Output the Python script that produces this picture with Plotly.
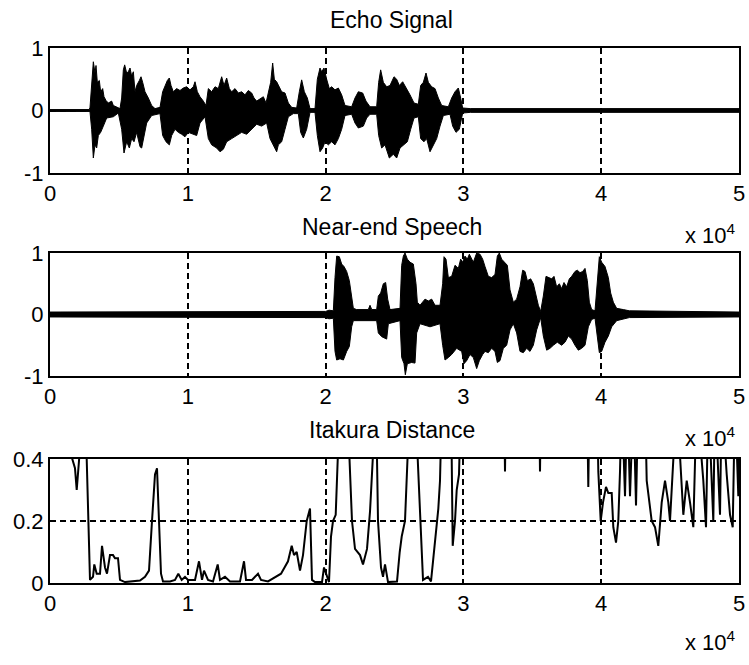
import plotly.graph_objects as go

# ---------------- data ----------------
# x values are sample indices (axis is labelled in units of 10^4)
echo_upper = [(0, 0.015), (2850, 0.015), (2903, 0.05), (3024, 0.45), (3145, 0.78), (3266, 0.6),
              (3338, 0.72), (3435, 0.45), (3580, 0.48), (3677, 0.3), (3822, 0.35), (3919, 0.22),
              (4064, 0.16), (4233, 0.12), (4475, 0.15), (4596, 0.08), (4838, 0.05), (5080, 0.03),
              (5201, 0.2), (5322, 0.65), (5418, 0.73), (5564, 0.6), (5685, 0.62), (5806, 0.68),
              (5926, 0.55), (6047, 0.62), (6168, 0.3), (6289, 0.4), (6483, 0.48), (6604, 0.54),
              (6725, 0.45), (6894, 0.3), (7136, 0.2), (7378, 0.08), (7620, 0.03), (7983, 0.05),
              (8176, 0.3), (8345, 0.38), (8515, 0.48), (8660, 0.52), (8781, 0.4), (8950, 0.3),
              (9192, 0.35), (9434, 0.32), (9676, 0.36), (9918, 0.38), (10160, 0.33), (10402, 0.38),
              (10523, 0.46), (10692, 0.3), (10885, 0.22), (11127, 0.15), (11321, 0.08), (11490, 0.35),
              (11732, 0.3), (11974, 0.38), (12216, 0.35), (12458, 0.54), (12627, 0.4), (12821, 0.52),
              (13014, 0.35), (13184, 0.3), (13425, 0.35), (13667, 0.28), (13909, 0.3), (14151, 0.25),
              (14393, 0.32), (14635, 0.28), (14804, 0.2), (14998, 0.15), (15240, 0.18), (15482, 0.22),
              (15675, 0.12), (15845, 0.3), (16014, 0.45), (16159, 0.76), (16280, 0.5), (16449, 0.46),
              (16570, 0.4), (16812, 0.3), (17054, 0.28), (17296, 0.12), (17537, 0.05), (17900, 0.04),
              (18094, 0.3), (18263, 0.49), (18457, 0.3), (18674, 0.2), (18868, 0.03), (19231, 0.03),
              (19400, 0.5), (19594, 0.68), (19715, 0.62), (19884, 0.68), (20077, 0.5), (20271, 0.35),
              (20440, 0.38), (20682, 0.33), (20924, 0.36), (21166, 0.25), (21408, 0.08), (21892, 0.06),
              (22134, 0.2), (22376, 0.3), (22690, 0.28), (22932, 0.15), (23222, 0.06), (23706, 0.06),
              (23851, 0.45), (23996, 0.65), (24190, 0.45), (24432, 0.38), (24674, 0.4), (24964, 0.54),
              (25158, 0.5), (25351, 0.4), (25593, 0.46), (25883, 0.35), (26125, 0.25), (26415, 0.12),
              (26730, 0.1), (26899, 0.4), (27093, 0.45), (27286, 0.6), (27456, 0.45), (27698, 0.38),
              (27940, 0.35), (28182, 0.2), (28424, 0.08), (28908, 0.06), (29149, 0.2), (29391, 0.3),
              (29633, 0.36), (29802, 0.2), (29947, 0.04), (30500, 0.03), (50000, 0.03)]
echo_lower = [(0, -0.015), (2900, -0.015), (3024, -0.3), (3145, -0.76), (3266, -0.55), (3387, -0.6),
              (3508, -0.4), (3677, -0.35), (3870, -0.25), (4112, -0.12), (4596, -0.1), (4959, -0.04),
              (5201, -0.3), (5370, -0.68), (5564, -0.5), (5757, -0.6), (5926, -0.45), (6096, -0.5),
              (6289, -0.35), (6531, -0.58), (6652, -0.6), (6822, -0.4), (7015, -0.2), (7378, -0.08),
              (7983, -0.05), (8176, -0.4), (8418, -0.5), (8660, -0.55), (8829, -0.4), (9071, -0.3),
              (9313, -0.35), (9555, -0.38), (9797, -0.42), (10039, -0.35), (10402, -0.38), (10644, -0.4),
              (10885, -0.2), (11248, -0.1), (11490, -0.45), (11732, -0.55), (12095, -0.6), (12337, -0.66),
              (12579, -0.62), (12821, -0.5), (13184, -0.45), (13546, -0.4), (13909, -0.35), (14272, -0.38),
              (14635, -0.3), (14998, -0.22), (15361, -0.25), (15724, -0.2), (15965, -0.45), (16207, -0.55),
              (16449, -0.66), (16570, -0.55), (16812, -0.5), (17054, -0.3), (17296, -0.1), (17658, -0.05),
              (18021, -0.05), (18190, -0.35), (18384, -0.44), (18626, -0.3), (18868, -0.03), (19231, -0.03),
              (19400, -0.4), (19594, -0.66), (19787, -0.6), (19957, -0.5), (20198, -0.55), (20440, -0.5),
              (20682, -0.55), (20924, -0.45), (21166, -0.3), (21408, -0.08), (21892, -0.06), (22134, -0.2),
              (22376, -0.28), (22738, -0.25), (22980, -0.12), (23222, -0.06), (23706, -0.06), (23851, -0.4),
              (24069, -0.6), (24311, -0.55), (24625, -0.76), (24916, -0.7), (25158, -0.76), (25400, -0.6),
              (25642, -0.55), (25932, -0.5), (26174, -0.3), (26415, -0.12), (26730, -0.1), (26899, -0.45),
              (27141, -0.5), (27335, -0.45), (27577, -0.66), (27819, -0.55), (28061, -0.45), (28303, -0.25),
              (28545, -0.08), (29028, -0.06), (29222, -0.25), (29464, -0.35), (29705, -0.3), (29947, -0.04),
              (30500, -0.03), (50000, -0.03)]

near_upper = [(0, 0.04), (19594, 0.04), (20000, 0.05), (20250, 0.07), (20562, 0.06), (20683, 0.6),
              (20804, 0.95), (20997, 0.94), (21166, 0.82), (21336, 0.78), (21529, 0.7), (21723, 0.55),
              (21892, 0.3), (22013, 0.1), (22255, 0.08), (23100, 0.08), (23223, 0.15), (23350, 0.08),
              (23706, 0.08), (23827, 0.3), (23997, 0.35), (24190, 0.5), (24359, 0.52), (24505, 0.25),
              (24674, 0.08), (25400, 0.1), (25521, 0.8), (25642, 0.95), (25763, 1.0), (25932, 0.9),
              (26125, 0.85), (26367, 0.82), (26561, 0.5), (26657, 0.2), (26851, 0.15), (27214, 0.25),
              (27456, 0.22), (27698, 0.25), (27940, 0.15), (28302, 0.15), (28496, 0.5), (28593, 0.94),
              (28738, 0.9), (28907, 0.6), (29149, 0.62), (29391, 0.8), (29632, 0.75), (29802, 0.9),
              (29947, 0.85), (30117, 0.95), (30286, 0.9), (30431, 0.98), (30721, 0.85), (30963, 1.0),
              (31205, 0.98), (31398, 0.9), (31568, 0.78), (31809, 0.62), (32051, 0.6), (32293, 0.65),
              (32463, 0.95), (32608, 1.0), (32777, 0.9), (33019, 0.85), (33188, 0.8), (33382, 0.4),
              (33624, 0.2), (33866, 0.25), (34108, 0.45), (34301, 0.72), (34470, 0.7), (34640, 0.55),
              (34882, 0.58), (35075, 0.5), (35269, 0.3), (35438, 0.15), (35607, 0.05), (35801, 0.3),
              (35994, 0.62), (36164, 0.6), (36406, 0.58), (36575, 0.62), (36768, 0.45), (36962, 0.5),
              (37131, 0.42), (37300, 0.52), (37494, 0.45), (37688, 0.58), (37857, 0.62), (38099, 0.7),
              (38268, 0.72), (38462, 0.68), (38655, 0.7), (38825, 0.75), (38994, 0.55), (39139, 0.2),
              (39308, 0.08), (39550, 0.06), (39720, 0.5), (39865, 0.94), (40034, 0.85), (40276, 0.78),
              (40518, 0.6), (40687, 0.35), (40881, 0.2), (41122, 0.1), (41606, 0.08), (42042, 0.06),
              (50000, 0.04)]
near_lower = [(0, -0.04), (19594, -0.04), (20000, -0.05), (20250, -0.07), (20562, -0.06), (20683, -0.6),
              (20804, -0.74), (21046, -0.72), (21290, -0.74), (21529, -0.6), (21723, -0.52), (21892, -0.2),
              (22013, -0.1), (23706, -0.1), (23827, -0.3), (24069, -0.36), (24432, -0.4), (24553, -0.15),
              (25400, -0.1), (25521, -0.7), (25690, -0.8), (25787, -0.98), (25932, -0.8), (26246, -0.78),
              (26488, -0.79), (26609, -0.3), (26851, -0.15), (27577, -0.2), (28302, -0.15), (28496, -0.5),
              (28665, -0.74), (28907, -0.7), (29149, -0.65), (29512, -0.55), (29875, -0.6), (30044, -0.8),
              (30238, -0.75), (30479, -0.65), (30721, -0.7), (30963, -0.88), (31156, -0.75), (31398, -0.65),
              (31568, -0.6), (31809, -0.62), (32051, -0.55), (32293, -0.6), (32463, -0.78), (32656, -0.75),
              (32898, -0.55), (33140, -0.5), (33382, -0.25), (33624, -0.15), (33866, -0.3), (34108, -0.6),
              (34349, -0.62), (34591, -0.55), (34833, -0.6), (35075, -0.5), (35317, -0.25), (35607, -0.05),
              (35801, -0.35), (36043, -0.58), (36285, -0.55), (36527, -0.5), (36817, -0.45), (37131, -0.5),
              (37373, -0.45), (37615, -0.35), (37857, -0.4), (38099, -0.5), (38341, -0.58), (38583, -0.55),
              (38825, -0.5), (39066, -0.2), (39308, -0.08), (39550, -0.06), (39720, -0.4), (39865, -0.62),
              (40034, -0.6), (40276, -0.45), (40518, -0.35), (40760, -0.2), (41122, -0.1), (41606, -0.07),
              (42042, -0.05), (50000, -0.04)]

ita_x = [0, 1451, 1618, 1814, 1938, 2032, 2177, 2467, 2663, 2903,
         3121, 3215, 3389, 3629, 3774, 3991, 4136, 4354, 4572, 4717,
         4935, 5080, 5443, 5951, 6531, 6894, 7184, 7402, 7620, 7765,
         7910, 8055, 8200, 8708, 9071, 9311, 9557, 9797, 10015, 10523,
         10813, 11031, 11176, 11466, 11829, 12170, 12337, 12700, 13063, 13788,
         14079, 14224, 14659, 15095, 15312, 15820, 16764, 17272, 17540, 17707,
         17903, 18143, 18360, 18629, 18868, 19013, 19231, 19739, 19884, 20102,
         20247, 20392, 20537, 20733, 20900, 21045, 21553, 21771, 21916, 22134,
         22497, 22714, 23005, 23222, 23440, 23585, 23658, 23803, 24021, 24166,
         24311, 24529, 25037, 25182, 25378, 25523, 25762, 25980, 26125, 26488,
         26706, 26851, 27069, 27431, 27649, 27795, 28063, 28180, 28302, 28447,
         29101, 29224, 29391, 29514, 29681, 29826, 32947, 33019, 33092, 35487,
         35559, 35632, 38970, 39064, 39151, 39696, 39790, 39964, 40131, 40349,
         40516, 40763, 40879, 41075, 41242, 41365, 41488, 41728, 41895, 42091,
         42331, 42526, 42693, 43179, 43302, 43665, 43905, 44144, 44391, 44631,
         44870, 44993, 45233, 45480, 45959, 46206, 46445, 46684, 46931, 47410,
         47606, 47773, 48136, 48259, 48622, 48745, 49108, 49348, 49544, 49711,
         49950, 50000]
ita_y = [0.6, 0.6, 0.4, 0.37, 0.30, 0.38, 0.6, 0.6, 0.4, 0.01,
         0.02, 0.06, 0.03, 0.03, 0.12, 0.05, 0.03, 0.09, 0.09, 0.08,
         0.08, 0.01, 0.003, 0.005, 0.008, 0.02, 0.04, 0.2, 0.35, 0.37,
         0.2, 0.03, 0.005, 0.005, 0.01, 0.03, 0.01, 0.02, 0.01, 0.01,
         0.07, 0.01, 0.04, 0.01, 0.005, 0.06, 0.01, 0.02, 0.005, 0.005,
         0.07, 0.01, 0.01, 0.03, 0.01, 0.005, 0.03, 0.07, 0.12, 0.09,
         0.1, 0.04, 0.09, 0.2, 0.24, 0.01, 0.003, 0.003, 0.05, 0.02,
         0.003, 0.15, 0.2, 0.22, 0.35, 0.6, 0.6, 0.37, 0.2, 0.11,
         0.09, 0.06, 0.11, 0.23, 0.37, 0.6, 0.6, 0.2, 0.05, 0.02,
         0.06, 0.003, 0.003, 0.005, 0.1, 0.15, 0.2, 0.37, 0.6, 0.6,
         0.37, 0.2, 0.01, 0.02, 0.005, 0.07, 0.2, 0.24, 0.33, 0.6,
         0.6, 0.12, 0.2, 0.3, 0.35, 0.6, 0.6, 0.36, 0.6, 0.6,
         0.36, 0.6, 0.6, 0.31, 0.6, 0.6, 0.36, 0.2, 0.26, 0.31,
         0.29, 0.29, 0.18, 0.13, 0.2, 0.36, 0.6, 0.28, 0.6, 0.28,
         0.6, 0.25, 0.6, 0.6, 0.33, 0.2, 0.18, 0.12, 0.26, 0.33,
         0.26, 0.2, 0.33, 0.6, 0.22, 0.33, 0.26, 0.18, 0.6, 0.33,
         0.18, 0.6, 0.2, 0.6, 0.22, 0.6, 0.35, 0.22, 0.18, 0.6,
         0.28, 0.6]

x_tick_vals = [0, 10000, 20000, 30000, 40000, 50000]
x_tick_text = ["0", "1", "2", "3", "4", "5"]
sig_tick_vals = [-1, 0, 1]
sig_tick_text = ["-1", "0", "1"]
ita_tick_vals = [0, 0.2, 0.4]
ita_tick_text = ["0", "0.2", "0.4"]
titles = ["Echo Signal", "Near-end Speech", "Itakura Distance"]
multiplier = "x 10<sup>4</sup>"

# ---------------- figure ----------------
W, H = 749, 665
FONT = "Liberation Sans"
fig = go.Figure()


def envelope(upper, lower, xa, ya):
    ux, uy = zip(*upper)
    lx, ly = zip(*lower)
    fig.add_trace(go.Scatter(x=list(ux), y=list(uy), mode="lines", xaxis=xa, yaxis=ya,
                             line=dict(color="black", width=1), hoverinfo="skip",
                             showlegend=False))
    fig.add_trace(go.Scatter(x=list(lx), y=list(ly), mode="lines", xaxis=xa, yaxis=ya,
                             fill="tonexty", fillcolor="black",
                             line=dict(color="black", width=1), hoverinfo="skip",
                             showlegend=False))


envelope(echo_upper, echo_lower, "x", "y")
envelope(near_upper, near_lower, "x2", "y2")
fig.add_trace(go.Scatter(x=ita_x, y=ita_y, mode="lines", xaxis="x3", yaxis="y3",
                         line=dict(color="black", width=2), showlegend=False))

# pixel boxes of the three plot areas (top, bottom)
boxes = [(48, 173), (253, 376), (459, 583)]
x_dom = [50 / W, 739 / W]

common = dict(showline=True, mirror=True, linecolor="black", linewidth=2,
              showgrid=True, gridcolor="black", gridwidth=1.6, griddash="6px,4px",
              zeroline=False, ticks="", automargin=False,
              tickfont=dict(family=FONT, size=22, color="black"))

layout = dict(width=W, height=H, margin=dict(l=0, r=0, t=0, b=0, pad=0),
              autosize=False, template="none",
              paper_bgcolor="white", plot_bgcolor="white", showlegend=False)

for i, (top, bot) in enumerate(boxes):
    sfx = "" if i == 0 else str(i + 1)
    ydom = [1 - bot / H, 1 - top / H]
    layout["xaxis" + sfx] = dict(common, domain=x_dom, anchor="y" + sfx,
                                 range=[0, 50000], tickvals=x_tick_vals,
                                 ticktext=x_tick_text)
    if i < 2:
        layout["yaxis" + sfx] = dict(common, domain=ydom, anchor="x" + sfx,
                                     range=[-1, 1], tickvals=sig_tick_vals,
                                     ticktext=sig_tick_text)
    else:
        layout["yaxis" + sfx] = dict(common, domain=ydom, anchor="x" + sfx,
                                     range=[0, 0.4], tickvals=ita_tick_vals,
                                     ticktext=ita_tick_text)

fig.update_layout(**layout)

title_y = [20, 227, 430]
mult_y = [234, 437, 641]
for t, ty, my in zip(titles, title_y, mult_y):
    fig.add_annotation(text=t, xref="paper", yref="paper", x=392 / W, y=1 - ty / H,
                       xanchor="center", yanchor="middle", showarrow=False,
                       font=dict(family=FONT, size=23, color="black"))
    fig.add_annotation(text=multiplier, xref="paper", yref="paper", x=738 / W,
                       y=1 - my / H, xanchor="right", yanchor="middle",
                       showarrow=False, font=dict(family=FONT, size=22, color="black"))

fig.write_html("out.html")
